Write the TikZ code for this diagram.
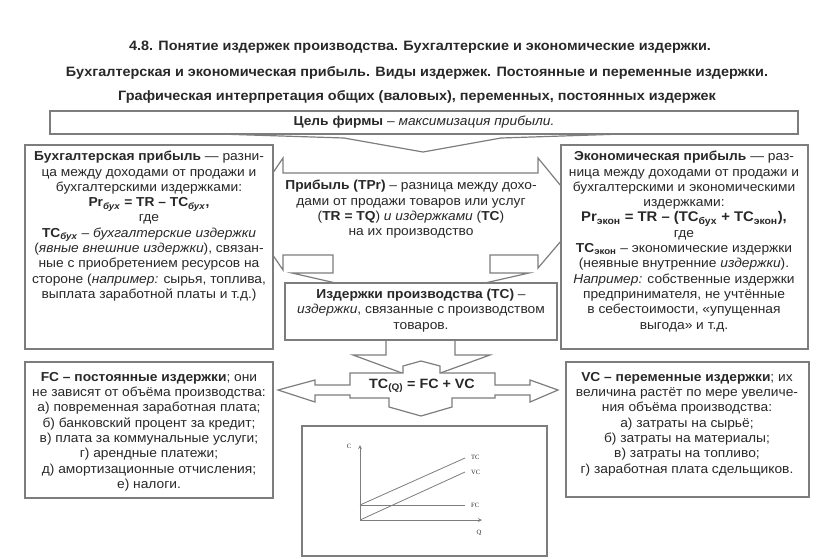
\documentclass[tikz,border=0pt]{standalone}
\usepackage{fontspec}
\setmainfont[FakeStretch=1.06]{Liberation Sans}
\newfontfamily\chartfont{Liberation Serif}
\usetikzlibrary{arrows.meta}
\definecolor{linegray}{RGB}{125,125,125}
\definecolor{inkgray}{RGB}{40,40,40}

\begin{document}
\begin{tikzpicture}[x=1pt, y=-1pt,
        box/.style={rectangle, draw=linegray, line width=1.3pt, fill=white, inner sep=0pt},
        blk/.style={draw=linegray, line width=1.2pt, fill=white, line join=miter},
        txt/.style={align=center, text=inkgray, inner sep=0pt, anchor=north, font=\fontsize{13}{15.3}\selectfont},
        head/.style={font=\fontsize{13.6}{15}\selectfont\bfseries, text=inkgray},
        axis/.style={->, >=stealth, linegray, line width=0.8pt},
        curve/.style={linegray, line width=0.8pt},
        lbl/.style={font=\chartfont\fontsize{6.5}{7}\selectfont, text=inkgray, inner sep=1pt}
    ]
        \useasboundingbox (0,0) rectangle (816,558);

        \node[head] (t1) at (420,47) {4.8. Понятие издержек производства. Бухгалтерские и экономические издержки.};
        \node[head] (t2) at (417,73) {Бухгалтерская и экономическая прибыль. Виды издержек. Постоянные и переменные издержки.};
        \node[head] (t3) at (417,97) {Графическая интерпретация общих (валовых), переменных, постоянных издержек};

        \draw[blk, fill=none] (150,125) -- (219,134) -- (344,138) -- (423,152) -- (501,138) -- (623,134) -- (700,125);
        \node[box, minimum width=748pt, minimum height=23pt] (goal) at (424,122.5) {};
        \node[txt, anchor=center] (goaltxt) at (goal) {\textbf{Цель фирмы} – \textit{максимизация прибыли.}};

        \draw[blk] (283,173) -- (538,173) -- (538,158) -- (584,214) -- (538,268) -- (538,255) -- (490,255) -- (490,273) -- (529,273) -- (410,300) -- (292,273) -- (333,273) -- (333,255) -- (283,255) -- (283,270) -- (245,214) -- (283,158) -- cycle;
        \node[txt] (profit) at (411,180) {\textbf{Прибыль (TPr)} – разница между дохо-\\дами от продажи товаров или услуг\\(\textbf{TR = TQ}) \textit{и издержками} (\textbf{TC})\\на их производство};

        \node[box, minimum width=248pt, minimum height=204pt] (acc) at (149,247) {};
        \node[txt] (acctxt) at (149,151) {\textbf{Бухгалтерская прибыль} — разни-\\ца между доходами от продажи и\\бухгалтерскими издержками:\\\textbf{Pr\textsubscript{\textit{бух}} = TR – TC\textsubscript{\textit{бух}},}\\где\\\textbf{TC\textsubscript{\textit{бух}}} – \textit{бухгалтерские издержки}\\(\textit{явные внешние издержки}), связан-\\ные с приобретением ресурсов на\\стороне (\textit{например:} сырья, топлива,\\выплата заработной платы и т.д.)};

        \node[box, minimum width=247pt, minimum height=204pt] (econ) at (684.5,247) {};
        \node[txt] (econtxt) at (684,151) {\textbf{Экономическая прибыль} — раз-\\ница между доходами от продажи и\\бухгалтерскими и экономическими\\издержками:\\{\fontsize{14}{16}\selectfont\textbf{Pr\textsubscript{экон} = TR – (TC\textsubscript{бух} + TC\textsubscript{экон}),}}\\где\\\textbf{TC\textsubscript{экон}} – экономические издержки\\(неявные внутренние \textit{издержки}).\\\textit{Например:} собственные издержки\\предпринимателя, не учтённые\\в себестоимости, «упущенная\\выгода» и т.д.};

        \draw[blk] (386,335) -- (455,335) -- (455,355) -- (490,355) -- (421,380) -- (353,355) -- (386,355) -- cycle;
        \node[box, minimum width=272pt, minimum height=57pt] (cost) at (421,311.5) {};
        \node[txt] (costtxt) at (421,289) {\textbf{Издержки производства (TC)} –\\\textit{издержки}, связанные с производством\\товаров.};

        \draw[blk] (350,373) -- (403,373) -- (403,366) -- (421,361) -- (440,366) -- (440,373) -- (495,373) -- (495,385) -- (530,385) -- (530,380) -- (558,390) -- (530,402) -- (530,395) -- (495,395) -- (495,398) -- (452,398) -- (452,407) -- (421,416) -- (389,407) -- (389,398) -- (350,398) -- (350,395) -- (315,395) -- (315,402) -- (278,390) -- (315,380) -- (315,385) -- (350,385) -- cycle;
        \node[txt, anchor=center, font=\fontsize{13.5}{15}\selectfont\bfseries] (form) at (422,386) {TC\textsubscript{(Q)} = FC + VC};

        \node[box, minimum width=248pt, minimum height=136pt] (fc) at (149,430) {};
        \node[txt] (fctxt) at (149,372) {\textbf{FC – постоянные издержки}; они\\не зависят от объёма производства:\\а) повременная заработная плата;\\б) банковский процент за кредит;\\в) плата за коммунальные услуги;\\г) арендные платежи;\\д) амортизационные отчисления;\\е) налоги.};

        \node[box, minimum width=243pt, minimum height=135pt] (vc) at (687.5,429.5) {};
        \node[txt] (vctxt) at (687,372) {\textbf{VC – переменные издержки}; их\\величина растёт по мере увеличе-\\ния объёма производства:\\а) затраты на сырьё;\\б) затраты на материалы;\\в) затраты на топливо;\\г) заработная плата сдельщиков.};

        \node[box, minimum width=245pt, minimum height=130pt] (graph) at (424.5,491) {};
        \coordinate (o) at (360,520);
        \coordinate (f0) at (360,505);
        \coordinate (ctop) at (360,445);
        \coordinate (qend) at (482,520);
        \coordinate (tcend) at (465,458);
        \coordinate (vcend) at (465,472);
        \coordinate (fcend) at (465,505);
        \draw[axis] (o) -- (ctop);
        \draw[axis] (o) -- (qend);
        \draw[curve] (f0) -- (tcend);
        \draw[curve] (o) -- (vcend);
        \draw[curve] (f0) -- (fcend);
        \node[lbl] (cl) at (349,446) {C};
        \node[lbl] (ql) at (479,533) {Q};
        \node[lbl, anchor=west] (tcl) at (470,457) {TC};
        \node[lbl, anchor=west] (vcl) at (470,472) {VC};
        \node[lbl, anchor=west] (fcl) at (470,505) {FC};
    \end{tikzpicture}
\end{document}
